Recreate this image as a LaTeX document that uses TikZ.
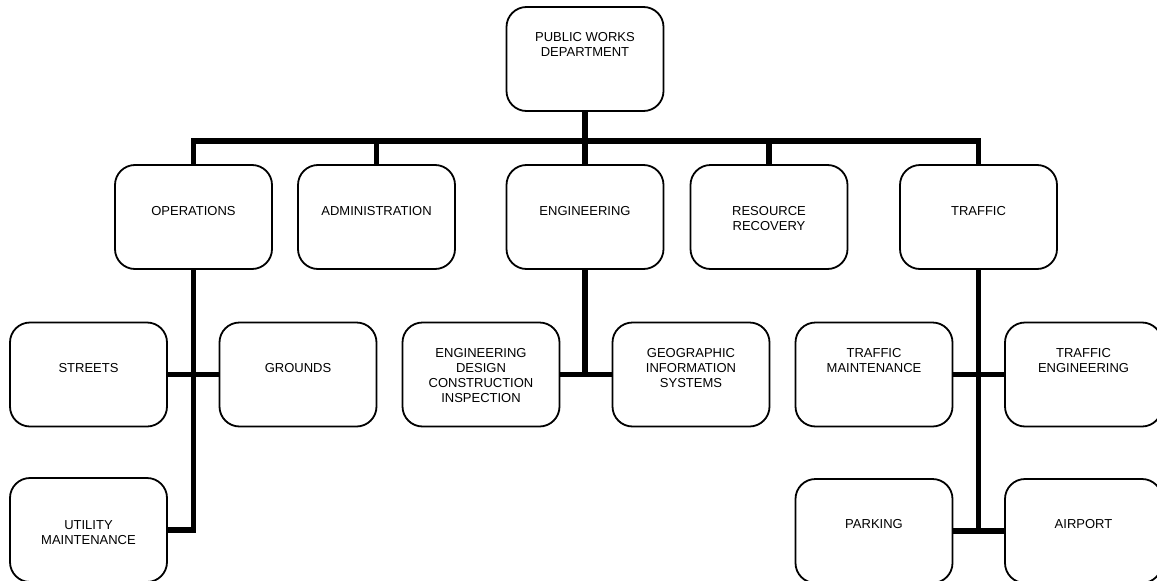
\documentclass[tikz,border=0pt]{standalone}
\usepackage{fontspec}
\setmainfont{Liberation Sans}
\pgfdeclarelayer{background}
\pgfsetlayers{background,main}
\begin{document}
\begin{tikzpicture}[x=1pt,y=-1pt,
  box/.style={draw, fill=white, line width=1.8pt, rounded corners=20pt,
    minimum width=157pt, minimum height=104pt, inner sep=0pt},
  lbl/.style={anchor=north, inner sep=0pt, align=center,
    font=\fontsize{13}{15}\selectfont},
  conn/.style={line width=5.5pt, line join=miter}]
\useasboundingbox (0,0) rectangle (1157,581);
% nodes
\node[box, label={[lbl,yshift=-26.3pt]north:PUBLIC WORKS\\DEPARTMENT}] (top) at (585,59) {};
\node[box, label={[lbl,yshift=-42.3pt]north:OPERATIONS}] (ops) at (193.5,217) {};
\node[box, label={[lbl,yshift=-42.3pt]north:ADMINISTRATION}] (adm) at (376.5,217) {};
\node[box, label={[lbl,yshift=-42.3pt]north:ENGINEERING}] (eng) at (585,217) {};
\node[box, label={[lbl,yshift=-42.3pt]north:RESOURCE\\RECOVERY}] (res) at (769,217) {};
\node[box, label={[lbl,yshift=-42.3pt]north:TRAFFIC}] (tra) at (978.5,217) {};
\node[box, label={[lbl,yshift=-41.3pt]north:STREETS}] (str) at (88.5,374.5) {};
\node[box, label={[lbl,yshift=-41.3pt]north:GROUNDS}] (gro) at (298,374.5) {};
\node[box, label={[lbl,yshift=-43.3pt]north:UTILITY\\MAINTENANCE}] (uti) at (88.5,530) {};
\node[box, label={[lbl,yshift=-26.3pt]north:ENGINEERING\\DESIGN\\CONSTRUCTION\\INSPECTION}] (eds) at (481,374.5) {};
\node[box, label={[lbl,yshift=-26.3pt]north:GEOGRAPHIC\\INFORMATION\\SYSTEMS}] (gis) at (691,374.5) {};
\node[box, label={[lbl,yshift=-26.3pt]north:TRAFFIC\\MAINTENANCE}] (tma) at (874,374.5) {};
\node[box, label={[lbl,yshift=-26.3pt]north:TRAFFIC\\ENGINEERING}] (ten) at (1083.5,374.5) {};
\node[box, label={[lbl,yshift=-41.3pt]north:PARKING}] (par) at (874,531) {};
\node[box, label={[lbl,yshift=-41.3pt]north:AIRPORT}] (air) at (1083.5,531) {};
\coordinate (bus) at (0,141);
% connectors (behind boxes)
\begin{pgfonlayer}{background}
\draw[conn] (top.south) -- (top.south |- bus);
\draw[conn] (ops.north) -- (ops.north |- bus) -- (tra.north |- bus) -- (tra.north);
\draw[conn] (adm.north) -- (adm.north |- bus);
\draw[conn] (eng.north) -- (eng.north |- bus);
\draw[conn] (res.north) -- (res.north |- bus);
% operations
\draw[conn] (ops.south) -- (ops.south |- uti.east) -- (uti.east);
\draw[conn] (str.east) -- (gro.west);
% engineering
\draw[conn] (eng.south) -- (eng.south |- eds.east);
\draw[conn] (eds.east) -- (gis.west);
% traffic
\draw[conn, line cap=rect] (tra.south) -- (tra.south |- par.east);
\draw[conn] (tma.east) -- (ten.west);
\draw[conn] (par.east) -- (air.west);
\end{pgfonlayer}
\end{tikzpicture}
\end{document}
